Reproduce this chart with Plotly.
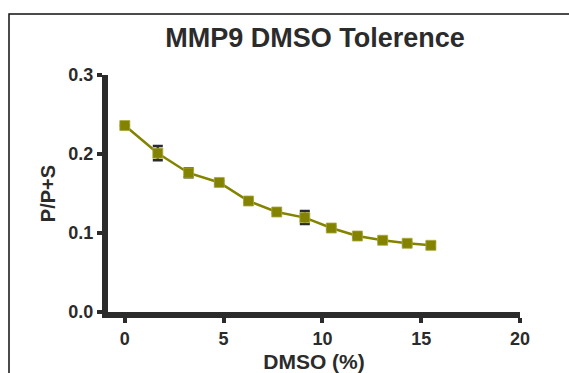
import plotly.graph_objects as go

dmso_pct = [0, 1.67, 3.23, 4.78, 6.26, 7.69, 9.11, 10.45, 11.77, 13.05, 14.29, 15.49]
p_ratio = [0.236, 0.201, 0.176, 0.164, 0.1405, 0.1266, 0.1195, 0.1063, 0.0962, 0.0908, 0.087, 0.0844]
p_err = [0, 0.009, 0.0055, 0.002, 0.002, 0.002, 0.0082, 0.002, 0.002, 0.002, 0.002, 0.004]
x_ticks = [0, 5, 10, 15, 20]
y_ticks = [0.0, 0.1, 0.2, 0.3]

ink = "#2b2b2b"
olive = "#838300"
fam = "Liberation Sans, Arial, sans-serif"

fig = go.Figure()
fig.add_trace(go.Scatter(
    x=dmso_pct, y=p_ratio,
    mode="lines+markers",
    line=dict(color=olive, width=2.5),
    marker=dict(symbol="square", size=10, color=olive,
                line=dict(color="#a8a840", width=0.8)),
    error_y=dict(type="data", array=p_err, visible=True,
                 color=ink, thickness=2.5, width=5),
    showlegend=False,
))

W, H = 569, 373
L, R, T, B = 108, 49, 75, 61
pw, ph = W - L - R, H - T - B

fig.update_layout(
    width=W, height=H,
    margin=dict(l=L, r=R, t=T, b=B, autoexpand=False),
    paper_bgcolor="white", plot_bgcolor="white",
    font=dict(family=fam, color=ink),
    title=dict(text="<b>MMP9 DMSO Tolerence</b>", x=315 / W, xanchor="center",
               y=1 - 38 / H, yanchor="middle",
               font=dict(size=27, color=ink, family=fam)),
)
fig.update_xaxes(
    range=[-0.85, 20], tickmode="array", tickvals=x_ticks,
    ticktext=[f"<b>{v}</b>" for v in x_ticks],
    showgrid=False, zeroline=False, automargin=False,
    showline=True, linecolor=ink, linewidth=6, mirror=False,
    ticks="outside", ticklen=5, tickwidth=3.5, tickcolor=ink,
    tickfont=dict(size=18, color=ink, family=fam),
    title=dict(text="<b>DMSO (%)</b>", font=dict(size=21, color=ink, family=fam)),
)
fig.update_yaxes(
    range=[0, 0.3], tickmode="array", tickvals=y_ticks,
    ticktext=[f"<b>{v:.1f}</b>" for v in y_ticks],
    showgrid=False, zeroline=False, automargin=False,
    showline=True, linecolor=ink, linewidth=6, mirror=False,
    ticks="outside", ticklen=5, tickwidth=3.5, tickcolor=ink,
    tickfont=dict(size=18, color=ink, family=fam),
    title=dict(text="<b>P/P+S</b>", font=dict(size=20, color=ink, family=fam), standoff=9),
)

# outer frame (partially off-canvas, as in the reference)
fig.add_shape(type="rect", xref="paper", yref="paper",
              x0=(9 - L) / pw, x1=(W + 20 - L) / pw,
              y0=-(B + 20) / ph, y1=(H - B - 14) / ph,
              line=dict(color="#111111", width=1.5), fillcolor="rgba(0,0,0,0)",
              layer="below")

fig.write_html("out.html")
